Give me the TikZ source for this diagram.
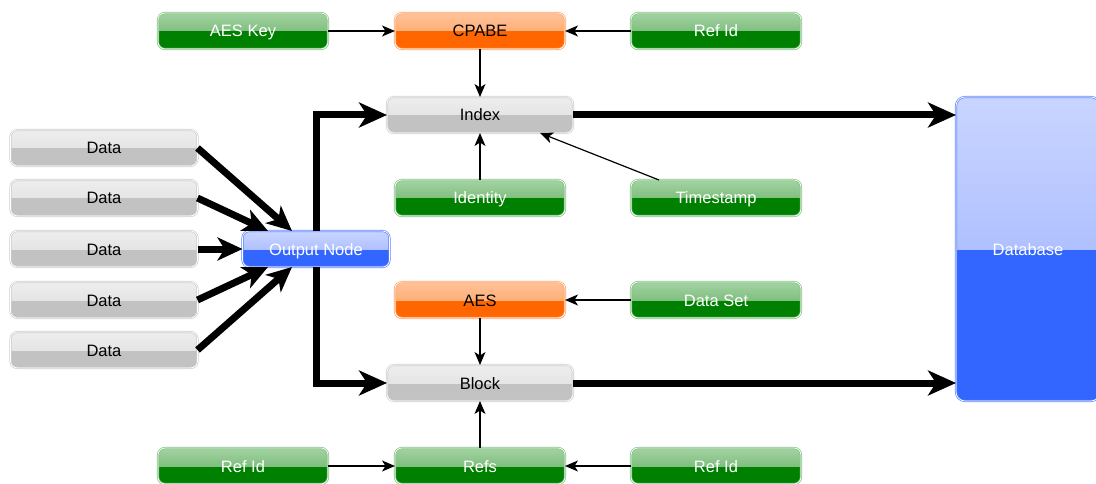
\documentclass[tikz,border=0pt]{standalone}
\usepackage{fontspec}
\setmainfont{Liberation Sans}
\usetikzlibrary{arrows.meta}

\definecolor{grnTop}{HTML}{A3D3A3}
\definecolor{grnMid}{HTML}{5DAA5D}
\definecolor{grnBot}{HTML}{008000}
\definecolor{grnEdge}{HTML}{7FC27F}
\definecolor{orgTop}{HTML}{FFC39A}
\definecolor{orgMid}{HTML}{FF9A55}
\definecolor{orgBot}{HTML}{FF6600}
\definecolor{orgEdge}{HTML}{FF9F5F}
\definecolor{gryTop}{HTML}{EEEEEE}
\definecolor{gryMid}{HTML}{DCDCDC}
\definecolor{gryBot}{HTML}{C2C2C2}
\definecolor{gryEdge}{HTML}{CDCDCD}
\definecolor{bluTop}{HTML}{C9D5FF}
\definecolor{bluMid}{HTML}{97ACFF}
\definecolor{bluBot}{HTML}{3366FF}
\definecolor{bluEdge}{HTML}{5F85FF}

\tikzset{
  glossy/.style n args={4}{
    rounded corners=7pt, draw=#4, double=white, double distance=0.7pt,
    line width=0.7pt, fill=#3, inner sep=0pt, outer sep=0pt,
    font=\fontsize{16.5}{19}\selectfont, text height=12pt, text depth=0pt,
    path picture={\fill[sharp corners, top color=#1, bottom color=#2]
      (path picture bounding box.north west) rectangle (path picture bounding box.east);}},
  greenbox/.style={glossy={grnTop}{grnMid}{grnBot}{grnEdge}, text=white,
    minimum width=170pt, minimum height=36pt},
  orangebox/.style={glossy={orgTop}{orgMid}{orgBot}{orgEdge}, text=black,
    minimum width=170pt, minimum height=36pt},
  graybox/.style={glossy={gryTop}{gryMid}{gryBot}{gryEdge}, text=black,
    minimum width=186pt, minimum height=36pt},
  databox/.style={graybox, minimum width=187pt},
  bluebox/.style={glossy={bluTop}{bluMid}{bluBot}{bluEdge}, text=white,
    minimum width=147pt, minimum height=36pt},
  thinarrow/.style={line width=1.2pt, -{Stealth[length=13pt, width=11pt, inset=3.5pt]}},
  thickarrow/.style={line width=7pt, -{Stealth[length=28pt, width=25pt, inset=8pt]}},
  feedarrow/.style={line width=7pt, -{Stealth[length=25pt, width=23pt, inset=7pt]}},
}

\begin{document}
\begin{tikzpicture}[x=1pt, y=-1pt]
\useasboundingbox (0,0) rectangle (1096,484);

% key material for the index
\node[greenbox]  (aeskey) at (243,31)  {AES Key};
\node[orangebox] (cpabe)  at (480,31)  {CPABE};
\node[greenbox]  (refid1) at (716,31)  {Ref Id};

% index record
\node[graybox]   (index)  at (480,115) {Index};
\node[greenbox]  (ident)  at (480,198) {Identity};
\node[greenbox]  (tstamp) at (716,198) {Timestamp};

% incoming data
\node[databox]   (d1) at (104,148) {Data};
\node[databox]   (d2) at (104,198) {Data};
\node[databox]   (d3) at (104,249) {Data};
\node[databox]   (d4) at (104,300) {Data};
\node[databox]   (d5) at (104,350) {Data};
\node[bluebox]   (out) at (316,249) {Output Node};

% block record
\node[orangebox] (aes)     at (480,300) {AES};
\node[greenbox]  (dataset) at (716,300) {Data Set};
\node[graybox]   (block)   at (480,383) {Block};
\node[greenbox]  (refid2)  at (243,466) {Ref Id};
\node[greenbox]  (refs)    at (480,466) {Refs};
\node[greenbox]  (refid3)  at (716,466) {Ref Id};

% storage
\node[glossy={bluTop}{bluMid}{bluBot}{bluEdge}, text=white,
      rounded corners=9pt, minimum width=144pt, minimum height=304pt] (db) at (1028,249) {Database};

% docking points on the output node
\coordinate (o1) at ([xshift=-24pt]out.north);
\coordinate (o2) at ([xshift=-48pt]out.north);
\coordinate (o4) at ([xshift=-48pt]out.south);
\coordinate (o5) at ([xshift=-24pt]out.south);
\coordinate (tsA) at ([xshift=28pt]tstamp.north west);
\coordinate (ixA) at ([xshift=60pt]index.south);

% thin connectors
\draw[thinarrow] (aeskey) -- (cpabe);
\draw[thinarrow] (refid1) -- (cpabe);
\draw[thinarrow] (cpabe) -- (index);
\draw[thinarrow] (ident) -- (index);
\draw[thinarrow] (tsA) -- (ixA);
\draw[thinarrow] (dataset) -- (aes);
\draw[thinarrow] (aes) -- (block);
\draw[thinarrow] (refs) -- (block);
\draw[thinarrow] (refid2) -- (refs);
\draw[thinarrow] (refid3) -- (refs);

% thick data flow
\draw[feedarrow] (d1.east) -- (o1);
\draw[feedarrow] (d2.east) -- (o2);
\draw[feedarrow] (d3.east) -- (out.west);
\draw[feedarrow] (d4.east) -- (o4);
\draw[feedarrow] (d5.east) -- (o5);
\draw[thickarrow, line join=miter] (out.north) |- (index.west);
\draw[thickarrow, line join=miter] (out.south) |- (block.west);
\draw[thickarrow] (index.east) -- (index.east -| db.west);
\draw[thickarrow] (block.east) -- (block.east -| db.west);
\end{tikzpicture}
\end{document}
